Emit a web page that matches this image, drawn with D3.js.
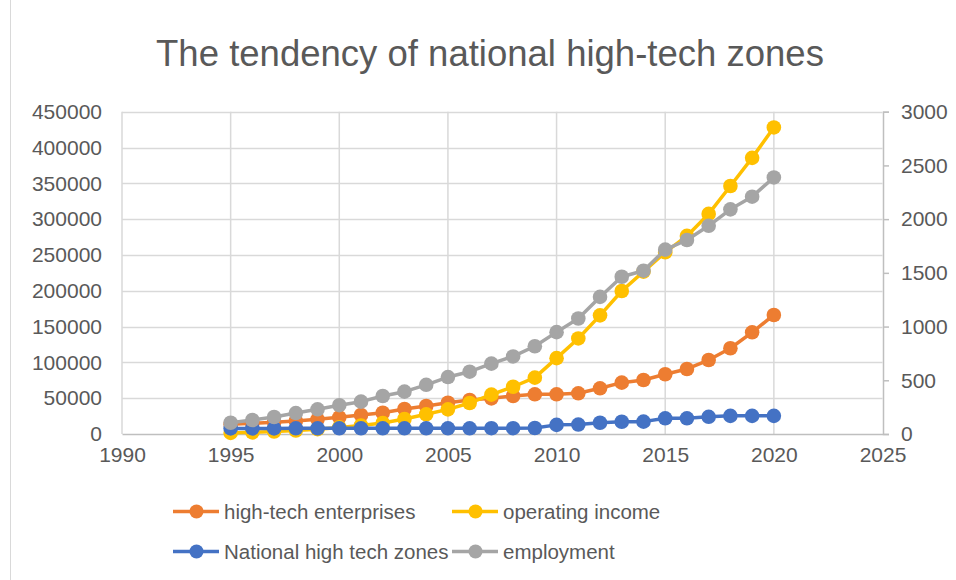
<!DOCTYPE html>
<html>
<head>
<meta charset="utf-8">
<script src="https://cdn.jsdelivr.net/npm/d3@7"></script>
<style>
  html, body { margin: 0; padding: 0; background: #fff; }
  svg { display: block; }
  text { font-family: "Liberation Sans", Arial, sans-serif; fill: #595959; }
</style>
</head>
<body>
<svg id="chart" width="956" height="580"></svg>
<script>
// ---- data ----
const years = [1995,1996,1997,1998,1999,2000,2001,2002,2003,2004,2005,2006,2007,2008,2009,2010,2011,2012,2013,2014,2015,2016,2017,2018,2019,2020];
// primary (left) axis
const enterprises = [13500,14900,16300,18100,20500,23300,26500,29700,34900,39100,43700,47500,49800,53100,55400,55400,56800,63800,71700,75400,83400,90800,103300,119700,142000,166200];
const income = [1529,2300,3388,4840,6775,9209,11928,15326,20939,27466,34416,43320,54925,65985,78707,105917,133425,165690,199648,226754,253663,276560,307300,346213,385549,428000];
// secondary (right) axis
const zones = [52,52,52,53,53,53,53,53,53,53,53,53,54,54,56,85,88,105,114,115,146,146,160,169,169,169];
const employment = [105,130,158,195,230,268,301,354,394,458,530,580,655,722,817,948,1075,1276,1464,1520,1716,1806,1938,2091,2209,2388];

const seriesNames = ["high-tech enterprises","operating income","National high tech zones","employment"];
const seriesColors = ["#ED7D31","#FFC000","#4472C4","#A5A5A5"];
const xTicks = [1990,1995,2000,2005,2010,2015,2020,2025];
const leftTicks = [0,50000,100000,150000,200000,250000,300000,350000,400000,450000];
const rightTicks = [0,500,1000,1500,2000,2500,3000];
const title = "The tendency of national high-tech zones";

// ---- layout ----
const svg = d3.select("#chart");
const plot = {left: 122, right: 882.5, top: 111.7, bottom: 434};
const x = d3.scaleLinear().domain([1990,2025]).range([plot.left, plot.right]);
const yL = d3.scaleLinear().domain([0,450000]).range([plot.bottom, plot.top]);
const yR = d3.scaleLinear().domain([0,3000]).range([plot.bottom, plot.top]);

// chart border (left edge visible)
svg.append("line").attr("x1",10.5).attr("x2",10.5).attr("y1",0).attr("y2",580)
  .attr("stroke","#d9d9d9").attr("stroke-width",1);

// title
const t = svg.append("text").attr("x", 490).attr("y", 66).attr("text-anchor","middle")
  .style("font-family", "'Liberation Sans Narrow', 'Liberation Sans', Arial, sans-serif")
  .style("font-size","38px").text(title);
const tw = t.node().getComputedTextLength();
t.style("font-size", (38*668/tw).toFixed(2)+"px");

// gridlines
const grid = svg.append("g");
grid.selectAll("line.h").data(leftTicks.slice(1)).join("line")
  .attr("x1", plot.left).attr("x2", plot.right)
  .attr("y1", d => Math.round(yL(d))+0.5).attr("y2", d => Math.round(yL(d))+0.5)
  .attr("stroke","#d9d9d9").attr("stroke-width",1.5);
grid.selectAll("line.v").data(xTicks.slice(0,-1)).join("line")
  .attr("x1", d => x(d)).attr("x2", d => x(d))
  .attr("y1", plot.top).attr("y2", plot.bottom)
  .attr("stroke","#d9d9d9").attr("stroke-width",1.5);

// bottom axis
const xAxis = d3.axisBottom(x).tickValues(xTicks).tickFormat(d3.format("d")).tickSize(0).tickPadding(13);
const gx = svg.append("g").attr("transform",`translate(0,${plot.bottom})`).call(xAxis);
gx.select(".domain").attr("stroke","#bfbfbf").attr("stroke-width",1.5);
gx.selectAll("text").style("font-size","21px").attr("fill","#595959");

// left axis
const yAxisL = d3.axisLeft(yL).tickValues(leftTicks).tickFormat(d3.format("d")).tickSize(0).tickPadding(20);
const gyl = svg.append("g").attr("transform",`translate(${plot.left},0)`).call(yAxisL);
gyl.select(".domain").remove();
gyl.selectAll("text").style("font-size","21px").attr("fill","#595959");

// right axis
const yAxisR = d3.axisRight(yR).tickValues(rightTicks).tickFormat(d3.format("d")).tickSize(6).tickPadding(12);
const gyr = svg.append("g").attr("transform",`translate(${plot.right+0.5},0)`).call(yAxisR);
gyr.select(".domain").attr("stroke","#bfbfbf").attr("stroke-width",1.5);
gyr.selectAll(".tick line").attr("stroke","#bfbfbf").attr("stroke-width",1.5);
gyr.selectAll("text").style("font-size","21px").attr("fill","#595959");

// series
const series = [
  {vals: enterprises, scale: yL, color: seriesColors[0]},
  {vals: income, scale: yL, color: seriesColors[1]},
  {vals: zones, scale: yR, color: seriesColors[2]},
  {vals: employment, scale: yR, color: seriesColors[3]}
];
series.forEach(s => {
  const g = svg.append("g");
  const data = years.map((yr,i) => [yr, s.vals[i]]);
  const line = d3.line().x(d => x(d[0])).y(d => s.scale(d[1]));
  g.append("path").datum(data).attr("d", line).attr("fill","none")
    .attr("stroke", s.color).attr("stroke-width",3.5).attr("stroke-linejoin","round");
  g.selectAll("circle").data(data).join("circle")
    .attr("cx", d => x(d[0])).attr("cy", d => s.scale(d[1])).attr("r",7.3)
    .attr("fill", s.color);
});

// legend
const legendPos = [[173,511.5],[452,511.5],[173,551.5],[452,551.5]];
seriesNames.forEach((name,i) => {
  const [lx,ly] = legendPos[i];
  const g = svg.append("g").attr("transform",`translate(${lx},${ly})`);
  g.append("line").attr("x1",0).attr("x2",46).attr("y1",0).attr("y2",0)
    .attr("stroke", seriesColors[i]).attr("stroke-width",3.5);
  g.append("circle").attr("cx",23.5).attr("cy",0).attr("r",7).attr("fill",seriesColors[i]);
  g.append("text").attr("x",51).attr("y",0).attr("dy","0.35em")
    .style("font-size","20.5px").text(name);
});
</script>
</body>
</html>
